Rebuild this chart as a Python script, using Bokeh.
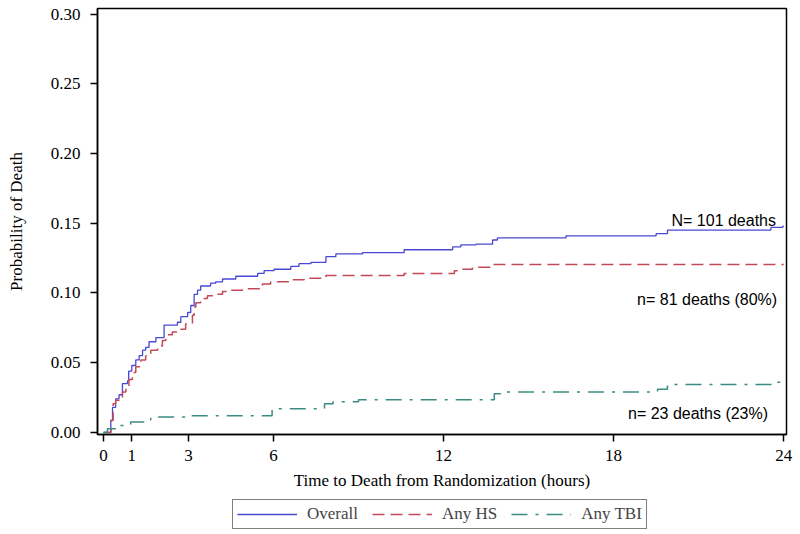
from bokeh.plotting import figure
from bokeh.layouts import column
from bokeh.models import (FixedTicker, NumeralTickFormatter, Legend, LegendItem,
                          Range1d, Label)
from bokeh.embed import file_html
from bokeh.resources import INLINE

# ---- data ----
overall_t = [0, 0.26, 0.32, 0.43, 0.55, 0.67, 0.85, 0.89, 1.0, 1.14, 1.26, 1.38, 1.49,
             1.61, 1.85, 2.14, 2.61, 2.73, 2.97, 3.08, 3.2, 3.32, 3.43, 3.78, 3.96,
             4.2, 4.67, 5.44, 5.67, 6.02, 6.61, 6.9, 7.32, 7.85, 8.2, 9.14, 10.61,
             12.32, 12.61, 13.14, 13.73, 13.9, 16.32, 19.5, 19.9, 23.55, 23.97, 24.0]
overall_p = [0, 0.0086, 0.018, 0.024, 0.027, 0.035, 0.037, 0.044, 0.048, 0.052, 0.055,
             0.059, 0.061, 0.065, 0.068, 0.077, 0.079, 0.083, 0.086, 0.091, 0.099,
             0.102, 0.105, 0.107, 0.108, 0.110, 0.112, 0.114, 0.116, 0.117, 0.119,
             0.121, 0.122, 0.126, 0.128, 0.129, 0.131, 0.133, 0.1345, 0.135, 0.138,
             0.1395, 0.141, 0.1425, 0.145, 0.147, 0.148, 0.148]

hs_t = [0, 0.26, 0.34, 0.43, 0.55, 0.67, 0.79, 0.9, 1.02, 1.14, 1.32, 1.49, 1.67, 1.91,
        2.08, 2.2, 2.43, 2.73, 2.9, 3.14, 3.2, 3.26, 3.43, 3.67, 3.85, 4.2, 4.38, 4.9,
        5.61, 5.9, 6.61, 7.08, 7.85, 10.61, 12.38, 12.61, 13.02, 13.67, 24.0]
hs_p = [0, 0.0086, 0.0205, 0.023, 0.025, 0.029, 0.032, 0.038, 0.043, 0.047, 0.052,
        0.055, 0.059, 0.062, 0.066, 0.070, 0.072, 0.074, 0.078, 0.084, 0.090, 0.093,
        0.096, 0.098, 0.099, 0.101, 0.102, 0.103, 0.1065, 0.108, 0.1095, 0.1105,
        0.1125, 0.114, 0.116, 0.117, 0.1185, 0.1205, 0.1205]

tbi_t = [0, 0.14, 0.61, 0.96, 1.55, 1.67, 3.0, 5.95, 7.8, 8.1, 9.0, 13.79, 14.02,
         19.55, 19.9, 23.55, 23.9, 24.0]
tbi_p = [0, 0.0026, 0.005, 0.0074, 0.009, 0.011, 0.012, 0.017, 0.0205, 0.022, 0.0235,
         0.0277, 0.029, 0.031, 0.0344, 0.036, 0.037, 0.037]

series_names = ["Overall", "Any HS", "Any TBI"]
x_ticks = [0, 1, 3, 6, 12, 18, 24]
y_ticks = [0.0, 0.05, 0.10, 0.15, 0.20, 0.25, 0.30]
annotations = ["N= 101 deaths", "n= 81 deaths (80%)", "n= 23 deaths (23%)"]

SERIF = "Liberation Serif"
SANS = "Liberation Sans"
STYLES = [dict(line_color="#4848D4", line_width=1.3),
          dict(line_color="#C24A56", line_width=1.5, line_dash="12 6"),
          dict(line_color="#3A8C82", line_width=1.5, line_dash="16 8 3 8")]

p = figure(width=800, height=495, output_backend="svg", toolbar_location=None,
           x_range=Range1d(-0.21, 24.1), y_range=Range1d(-0.0015, 0.304),
           min_border_left=97, min_border_right=14, min_border_top=8,
           min_border_bottom=61)

p.background_fill_color = "white"
p.border_fill_color = "white"
p.outline_line_color = "black"
p.outline_line_width = 1.5
p.grid.visible = False

for ax in (p.xaxis[0], p.yaxis[0]):
    ax.axis_line_color = "black"
    ax.axis_line_width = 1.5
    ax.major_tick_line_color = "black"
    ax.major_tick_line_width = 1.5
    ax.major_tick_out = 7
    ax.major_tick_in = 0
    ax.minor_tick_line_color = None
    ax.major_label_text_font = SERIF
    ax.major_label_text_font_size = "17px"
    ax.major_label_text_color = "black"
    ax.axis_label_text_font = SERIF
    ax.axis_label_text_font_size = "17px"
    ax.axis_label_text_font_style = "normal"
    ax.axis_label_text_color = "black"

p.xaxis.ticker = FixedTicker(ticks=x_ticks)
p.yaxis.ticker = FixedTicker(ticks=y_ticks)
p.yaxis.formatter = NumeralTickFormatter(format="0.00")
p.xaxis.axis_label = "Time to Death from Randomization (hours)"
p.yaxis.axis_label = "Probability of Death"
p.xaxis.major_label_standoff = 8
p.yaxis.major_label_standoff = 10
p.xaxis.axis_label_standoff = 7
p.yaxis.axis_label_standoff = 22

p.step(overall_t, overall_p, mode="after", **STYLES[0])
p.step(hs_t, hs_p, mode="after", **STYLES[1])
p.step(tbi_t, tbi_p, mode="after", **STYLES[2])

for (lx, ly, txt) in [(23.73, 0.152, annotations[0]), (23.77, 0.0953, annotations[1]),
                      (23.45, 0.0136, annotations[2])]:
    p.add_layout(Label(x=lx, y=ly, text=txt, text_align="right",
                       text_baseline="alphabetic", text_font=SANS,
                       text_font_size="16px", text_color="black"))

# ---- legend strip below the chart ----
leg = figure(width=800, height=39, output_backend="svg", toolbar_location=None,
             x_axis_location=None, y_axis_location=None,
             x_range=Range1d(0, 1), y_range=Range1d(0, 1),
             min_border_left=0, min_border_right=0, min_border_top=0,
             min_border_bottom=0)
leg.outline_line_color = None
leg.grid.visible = False
# off-screen single points: only their legend glyphs are seen
leg_renderers = [leg.line([-10], [-10], **s) for s in STYLES]
legend = Legend(items=[LegendItem(label=n, renderers=[r])
                       for n, r in zip(series_names, leg_renderers)],
                orientation="horizontal", location=(135, 5),
                border_line_color="black", border_line_width=1.3,
                background_fill_color="white", background_fill_alpha=1,
                glyph_width=60, glyph_height=16,
                label_text_font=SERIF, label_text_font_size="17px",
                label_standoff=10, spacing=14, padding=4, margin=0)
leg.add_layout(legend, "center")

layout = column(p, leg, spacing=0)
open("out.html", "w").write(file_html(layout, INLINE))
